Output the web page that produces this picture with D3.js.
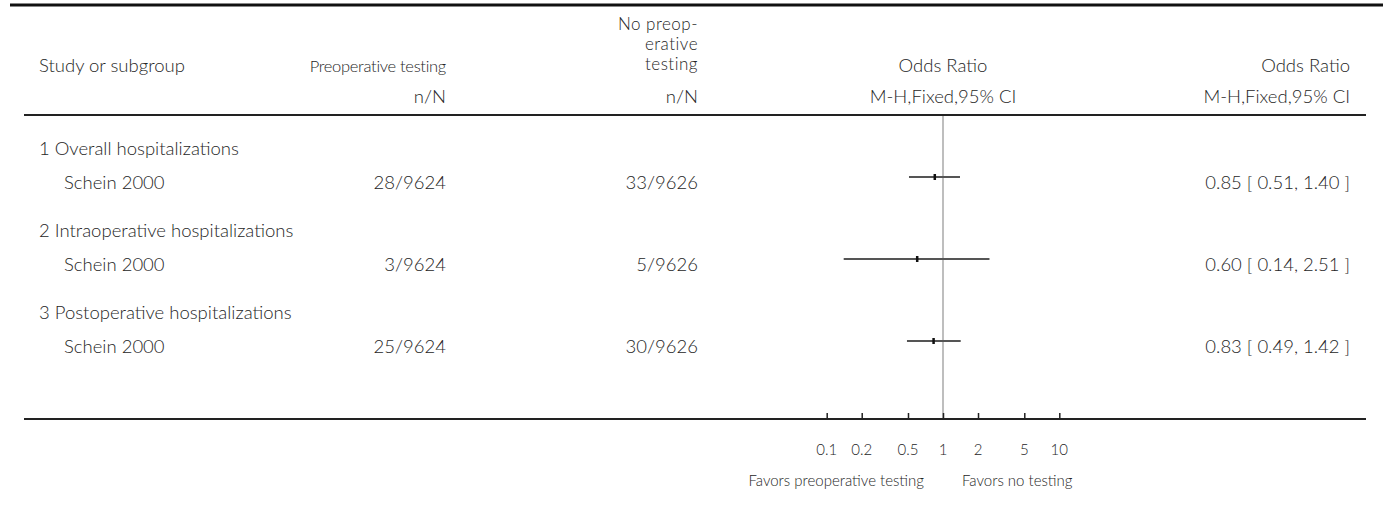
<!DOCTYPE html>
<html>
<head>
<meta charset="utf-8">
<script src="https://d3js.org/d3.v7.min.js"></script>
<style>
  body { margin: 0; background: #fff; }
  text { font-family: Lato, "Open Sans", sans-serif; font-size: 18.5px; font-weight: 300; fill: #262626; }
</style>
</head>
<body>
<svg id="forest" width="1383" height="520"></svg>
<script>
// chart data
var groups = ["1 Overall hospitalizations", "2 Intraoperative hospitalizations", "3 Postoperative hospitalizations"]
var studies = ["Schein 2000", "Schein 2000", "Schein 2000"]
var testingN = ["28/9624", "3/9624", "25/9624"]
var noTestingN = ["33/9626", "5/9626", "30/9626"]
var orEst = [0.85, 0.60, 0.83]
var orLow = [0.51, 0.14, 0.49]
var orHigh = [1.40, 2.51, 1.42]
var axisTicks = [0.1, 0.2, 0.5, 1, 2, 5, 10]
var tickLabels = ["0.1", "0.2", "0.5", "1", "2", "5", "10"]

var svg = d3.select("#forest")

// log scale for the odds ratio plot
var x = d3.scaleLog().domain([0.1, 10]).range([826.7, 1059.3])
// row positions
var y = d3.scalePoint().domain([0, 1, 2]).range([177, 341])

var fmt = d3.format(".2f")

// rules
svg.append("line").attr("x1", 10).attr("x2", 1383).attr("y1", 5).attr("y2", 5)
  .attr("stroke", "#111").attr("stroke-width", 3)
svg.append("line").attr("x1", 24).attr("x2", 1366).attr("y1", 115).attr("y2", 115)
  .attr("stroke", "#222").attr("stroke-width", 2)

// header
var header = svg.append("g")
header.append("text").attr("x", 39).attr("y", 72).text("Study or subgroup")
header.append("text").attr("x", 446).attr("y", 72).attr("text-anchor", "end")
  .style("font-size", "16.5px").style("letter-spacing", "-0.3px").text("Preoperative testing")
header.append("text").attr("x", 446).attr("y", 103).attr("text-anchor", "end").text("n/N")
var np = [["No preop-", 30], ["erative", 50], ["testing", 70]]
header.selectAll(".np").data(np).enter().append("text").attr("class", "np")
  .attr("x", 698).attr("y", function(d) { return d[1] })
  .attr("text-anchor", "end").style("font-size", "17px").style("letter-spacing", "0.5px")
  .text(function(d) { return d[0] })
header.append("text").attr("x", 698).attr("y", 103).attr("text-anchor", "end").text("n/N")
header.append("text").attr("x", x(1)).attr("y", 72).attr("text-anchor", "middle").text("Odds Ratio")
header.append("text").attr("x", x(1)).attr("y", 103).attr("text-anchor", "middle").text("M-H,Fixed,95% CI")
header.append("text").attr("x", 1350).attr("y", 72).attr("text-anchor", "end").text("Odds Ratio")
header.append("text").attr("x", 1350).attr("y", 103).attr("text-anchor", "end").text("M-H,Fixed,95% CI")

// line of no effect
svg.append("line").attr("x1", x(1)).attr("x2", x(1)).attr("y1", 116).attr("y2", 419)
  .attr("stroke", "#a8a8a8").attr("stroke-width", 1.5)

// rows
var rows = svg.selectAll(".row").data(d3.range(groups.length)).enter()
  .append("g").attr("class", "row")

rows.append("text").attr("x", 39).attr("y", function(i) { return y(i) - 22 })
  .text(function(i) { return groups[i] })
rows.append("text").attr("x", 64).attr("y", function(i) { return y(i) + 12 })
  .text(function(i) { return studies[i] })
rows.append("text").attr("x", 446).attr("y", function(i) { return y(i) + 12 })
  .attr("text-anchor", "end").text(function(i) { return testingN[i] })
rows.append("text").attr("x", 698).attr("y", function(i) { return y(i) + 12 })
  .attr("text-anchor", "end").text(function(i) { return noTestingN[i] })
rows.append("text").attr("x", 1350).attr("y", function(i) { return y(i) + 12 })
  .attr("text-anchor", "end")
  .text(function(i) { return fmt(orEst[i]) + " [ " + fmt(orLow[i]) + ", " + fmt(orHigh[i]) + " ]" })

// confidence intervals
rows.append("line")
  .attr("x1", function(i) { return x(orLow[i]) })
  .attr("x2", function(i) { return x(orHigh[i]) })
  .attr("y1", function(i) { return y(i) }).attr("y2", function(i) { return y(i) })
  .attr("stroke", "#555").attr("stroke-width", 2)
rows.append("rect")
  .attr("x", function(i) { return x(orEst[i]) - 1.25 })
  .attr("y", function(i) { return y(i) - 3 })
  .attr("width", 2.5).attr("height", 6).attr("fill", "#111")

// bottom axis
var axis = svg.append("g").attr("transform", "translate(0,419)")
  .call(d3.axisTop(x).tickValues(axisTicks).tickSize(6).tickFormat(""))
axis.select(".domain").remove()
axis.selectAll(".tick line").attr("stroke", "#222").attr("stroke-width", 1.5)
svg.append("line").attr("x1", 24).attr("x2", 1366).attr("y1", 419).attr("y2", 419)
  .attr("stroke", "#222").attr("stroke-width", 2)

svg.selectAll(".ticklabel").data(axisTicks).enter().append("text")
  .attr("class", "ticklabel")
  .attr("x", function(d) { return x(d) }).attr("y", 455)
  .attr("text-anchor", "middle").style("font-size", "15px")
  .text(function(d, i) { return tickLabels[i] })

svg.append("text").attr("x", x(1) - 19).attr("y", 486).attr("text-anchor", "end")
  .style("font-size", "15px").text("Favors preoperative testing")
svg.append("text").attr("x", x(1) + 19).attr("y", 486)
  .style("font-size", "15px").text("Favors no testing")
</script>
</body>
</html>
